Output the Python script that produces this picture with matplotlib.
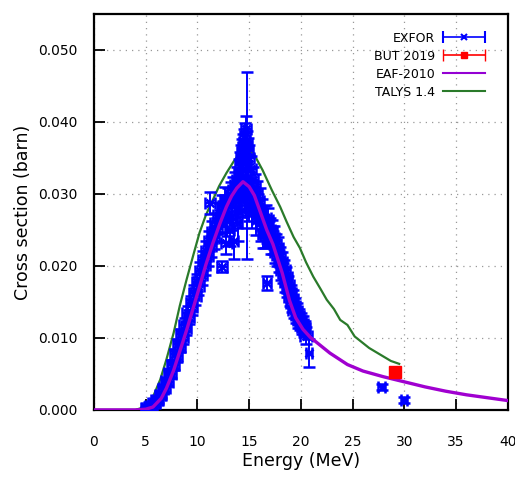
import numpy as np
import matplotlib
matplotlib.use("Agg")
import matplotlib.pyplot as plt
from matplotlib.container import ErrorbarContainer
from matplotlib.legend_handler import HandlerErrorbar

# ---------------------------
# DATA
# ---------------------------
# EXFOR: rising edge
rise_e = [5.0, 5.15, 5.3, 5.45, 5.6, 5.75, 5.9, 6.05, 6.2, 6.35, 6.5, 6.65, 6.8,
          6.95, 7.1, 7.25, 7.4, 7.55, 7.7, 7.85, 8.0, 8.15, 8.3, 8.45, 8.6,
          8.75, 8.9, 9.05, 9.2, 9.35, 9.5, 9.65, 9.8, 9.95, 10.1, 10.25, 10.4,
          10.55, 10.7, 10.85, 11.0, 11.15, 11.3, 11.45, 11.6, 11.75, 11.9,
          12.05, 12.2, 12.35, 12.5, 12.65]
rise_cs = [0.0002, 0.0003, 0.0004, 0.0005, 0.0006, 0.0009, 0.0010, 0.0014,
           0.0014, 0.0021, 0.0021, 0.0029, 0.0030, 0.0040, 0.0039, 0.0051,
           0.0050, 0.0063, 0.0062, 0.0077, 0.0075, 0.0091, 0.0088, 0.0105,
           0.0101, 0.0118, 0.0114, 0.0134, 0.0129, 0.0148, 0.0143, 0.0163,
           0.0158, 0.0177, 0.0172, 0.0193, 0.0187, 0.0208, 0.0201, 0.0221,
           0.0214, 0.0235, 0.0227, 0.0247, 0.0239, 0.0259, 0.0251, 0.0271,
           0.0262, 0.0282, 0.0273, 0.0292]
rise_dcs = [0.0002, 0.0002, 0.0003, 0.0003, 0.0003, 0.0003, 0.0004, 0.0004,
            0.0004, 0.0004, 0.0005, 0.0005, 0.0005, 0.0005, 0.0006, 0.0006,
            0.0006, 0.0006, 0.0007, 0.0007, 0.0008, 0.0008, 0.0008, 0.0008,
            0.0009, 0.0009, 0.0010, 0.0010, 0.0010, 0.0010, 0.0011, 0.0011,
            0.0012, 0.0012, 0.0012, 0.0012, 0.0013, 0.0013, 0.0014, 0.0014,
            0.0014, 0.0014, 0.0015, 0.0015, 0.0015, 0.0015, 0.0016, 0.0016,
            0.0016, 0.0016, 0.0017, 0.0017]

# EXFOR: around the 14 MeV peak
peak_e = [12.8, 12.9, 13.0, 13.1, 13.2, 13.3, 13.4, 13.5, 13.6, 13.7, 13.8,
          13.9, 14.0, 14.05, 14.1, 14.15, 14.2, 14.25, 14.3, 14.35, 14.4,
          14.45, 14.5, 14.55, 14.6, 14.65, 14.7, 14.75, 14.8, 14.85, 14.9,
          14.95, 15.0, 15.1, 15.2, 15.3, 15.4, 15.5, 15.6, 15.7, 15.8, 15.9,
          16.0, 16.1, 16.2, 16.3, 16.4, 16.5]
peak_cs = [0.0280, 0.0262, 0.0290, 0.0250, 0.0298, 0.0270, 0.0305, 0.0235,
           0.0312, 0.0280, 0.0320, 0.0260, 0.0330, 0.0295, 0.0340, 0.0275,
           0.0350, 0.0310, 0.0358, 0.0290, 0.0365, 0.0325, 0.0372, 0.0300,
           0.0380, 0.0345, 0.0390, 0.0340, 0.0370, 0.0315, 0.0360, 0.0285,
           0.0350, 0.0300, 0.0335, 0.0275, 0.0320, 0.0290, 0.0310, 0.0265,
           0.0300, 0.0280, 0.0290, 0.0255, 0.0275, 0.0245, 0.0265, 0.0245]
peak_dcs = [0.0018, 0.0020, 0.0018, 0.0022, 0.0018, 0.0020, 0.0018, 0.0025,
            0.0018, 0.0020, 0.0018, 0.0025, 0.0018, 0.0020, 0.0018, 0.0022,
            0.0018, 0.0020, 0.0018, 0.0022, 0.0018, 0.0020, 0.0018, 0.0025,
            0.0018, 0.0020, 0.0018, 0.0130, 0.0018, 0.0020, 0.0018, 0.0022,
            0.0018, 0.0020, 0.0018, 0.0022, 0.0018, 0.0020, 0.0018, 0.0022,
            0.0018, 0.0020, 0.0018, 0.0020, 0.0018, 0.0020, 0.0018, 0.0020]

# EXFOR: falling edge
fall_e = [16.6, 16.7, 16.8, 16.9, 17.0, 17.1, 17.2, 17.3, 17.4, 17.5, 17.6,
          17.7, 17.8, 17.9, 18.0, 18.1, 18.2, 18.3, 18.4, 18.5, 18.6, 18.7,
          18.8, 18.9, 19.0, 19.1, 19.2, 19.3, 19.4, 19.5, 19.6, 19.7, 19.8,
          19.9, 20.0, 20.1, 20.2, 20.3, 20.4]
fall_cs = [0.0267, 0.0250, 0.0264, 0.0245, 0.0250, 0.0233, 0.0248, 0.0233,
           0.0239, 0.0220, 0.0230, 0.0215, 0.0225, 0.0207, 0.0212, 0.0195,
           0.0205, 0.0190, 0.0195, 0.0177, 0.0185, 0.0170, 0.0174, 0.0157,
           0.0162, 0.0148, 0.0154, 0.0139, 0.0145, 0.0132, 0.0137, 0.0125,
           0.0130, 0.0121, 0.0124, 0.0115, 0.0120, 0.0111, 0.0114]
fall_dcs = [0.0018, 0.0018, 0.0017, 0.0017, 0.0017, 0.0017, 0.0016, 0.0016,
            0.0016, 0.0016, 0.0015, 0.0015, 0.0015, 0.0015, 0.0014, 0.0014,
            0.0014, 0.0014, 0.0013, 0.0013, 0.0013, 0.0013, 0.0012, 0.0012,
            0.0012, 0.0012, 0.0012, 0.0011, 0.0011, 0.0011, 0.0011, 0.0011,
            0.0010, 0.0010, 0.0010, 0.0010, 0.0010, 0.0010, 0.0010]

# EXFOR: isolated points
iso_e = [11.2, 12.4, 12.8, 16.7, 20.5, 20.8, 27.8, 30.0]
iso_cs = [0.0287, 0.0199, 0.0232, 0.0176, 0.0103, 0.0079, 0.0032, 0.0014]
iso_de = [0.5, 0.5, 0.5, 0.4, 0.6, 0.3, 0.3, 0.3]
iso_dcs = [0.0015, 0.0008, 0.0015, 0.0010, 0.0012, 0.0020, 0.0004, 0.0004]

but_e = [29.1]
but_cs = [0.0052]
but_de = [0.2]
but_dcs = [0.0003]

eaf_e = [0, 4.0, 5.0, 5.7, 6.5, 7.0, 7.7, 8.6, 9.0, 9.6, 10.2, 10.8, 11.5,
         12.2, 12.8, 13.3, 13.8, 14.4, 15.0, 15.5, 16.0, 16.7, 17.3, 18.2,
         18.9, 19.5, 20.2, 20.9, 22.8, 24.5, 26.0, 28.0, 30.0, 32.0, 34.0,
         36.0, 38.0, 40.0]
eaf_cs = [0, 0, 0.0001, 0.0004, 0.0016, 0.0030, 0.0055, 0.0095, 0.0113,
          0.0142, 0.0171, 0.0201, 0.0232, 0.0260, 0.0282, 0.0297, 0.0308,
          0.0317, 0.0310, 0.0298, 0.0278, 0.0250, 0.0230, 0.0190, 0.0152,
          0.0128, 0.0112, 0.0101, 0.0079, 0.0063, 0.0054, 0.0046, 0.0039,
          0.0032, 0.0026, 0.0021, 0.0017, 0.0013]

talys_e = [0, 4.0, 5.1, 5.7, 6.4, 7.0, 7.7, 8.3, 8.95, 9.6, 10.2, 10.8, 11.5,
           12.1, 12.8, 13.5, 14.1, 14.6, 15.4, 16.3, 17.2, 18.0, 18.6, 19.3,
           19.9, 20.5, 21.2, 21.9, 22.5, 23.2, 23.8, 24.5, 25.2, 25.9, 26.6,
           27.3, 28.0, 28.7, 29.5]
talys_cs = [0, 0, 0.0005, 0.0018, 0.0042, 0.0070, 0.0107, 0.0145, 0.0181,
            0.0215, 0.0246, 0.0270, 0.0292, 0.0311, 0.0329, 0.0345, 0.0357,
            0.0362, 0.0357, 0.0333, 0.0305, 0.0282, 0.0262, 0.0240, 0.0225,
            0.0205, 0.0185, 0.0168, 0.0153, 0.0140, 0.0125, 0.0118, 0.0102,
            0.0094, 0.0086, 0.0080, 0.0074, 0.0068, 0.0064]

# ---------------------------
# PLOT
# ---------------------------
fig = plt.figure(figsize=(5.15, 4.8), dpi=100)
ax = fig.add_axes([0.1825, 0.146, 0.8035, 0.825])

blue = "#0000ff"
red = "#ff0000"
purple = "#a000d0"
green = "#2a7a2a"

exfor_style = dict(fmt="x", color=blue, ms=6, mew=1.8, elinewidth=1.4,
                   capsize=4, capthick=1.4, zorder=3)
ax.plot(talys_e, talys_cs, color=green, lw=1.6, zorder=2)
ax.errorbar(rise_e, rise_cs, xerr=0.5, yerr=rise_dcs, **exfor_style)
ax.errorbar(peak_e, peak_cs, xerr=0.45, yerr=peak_dcs, **exfor_style)
ax.errorbar(fall_e, fall_cs, xerr=0.5, yerr=fall_dcs, **exfor_style)
ax.errorbar(iso_e, iso_cs, xerr=iso_de, yerr=iso_dcs, **exfor_style)
ax.plot(eaf_e, eaf_cs, color=purple, lw=2.4, zorder=4)
ax.errorbar(but_e, but_cs, xerr=but_de, yerr=but_dcs, fmt="s",
            color=red, ms=9, zorder=5)

# proxies for the legend (horizontal error bar handles)
h1 = ax.errorbar([np.nan], [np.nan], xerr=[1], fmt="x", color=blue, ms=5,
                 mew=1.5, elinewidth=1.2, capsize=4)
h2 = ax.errorbar([np.nan], [np.nan], xerr=[1], fmt="s", color=red, ms=5,
                 elinewidth=1.2, capsize=4)
h3, = ax.plot([], [], color="#9400d3", lw=1.5)
h4, = ax.plot([], [], color=green, lw=1.5)

ax.set_xlim(0, 40)
ax.set_ylim(0, 0.055)
ax.set_xticks(np.arange(0, 41, 5))
yt = np.arange(0, 0.051, 0.01)
ax.set_yticks(yt)
ax.set_yticklabels([f"{v:.3f}" for v in yt])
ax.tick_params(axis="both", direction="in", length=8, width=1.3,
               labelsize=10, colors="black")
ax.tick_params(axis="x", pad=18)
ax.tick_params(axis="y", pad=12)
ax.grid(True, color="#999999", linestyle=(0, (1, 4)), lw=0.9)
for s in ax.spines.values():
    s.set_linewidth(1.6)

ax.set_xlabel("Energy (MeV)", fontsize=12.5, labelpad=2)
ax.set_ylabel("Cross section (barn)", fontsize=12.5, labelpad=4)

ax.legend([h1, h2, h3, h4], ["EXFOR", "BUT 2019", "EAF-2010", "TALYS 1.4"],
          loc="upper right", bbox_to_anchor=(0.945, 0.955), frameon=False,
          fontsize=9, markerfirst=False, handlelength=3.4, handletextpad=0.6,
          labelspacing=0.4, borderaxespad=0, borderpad=0,
          handler_map={ErrorbarContainer: HandlerErrorbar(xerr_size=1.7)})

fig.savefig("out.png", dpi=100)
